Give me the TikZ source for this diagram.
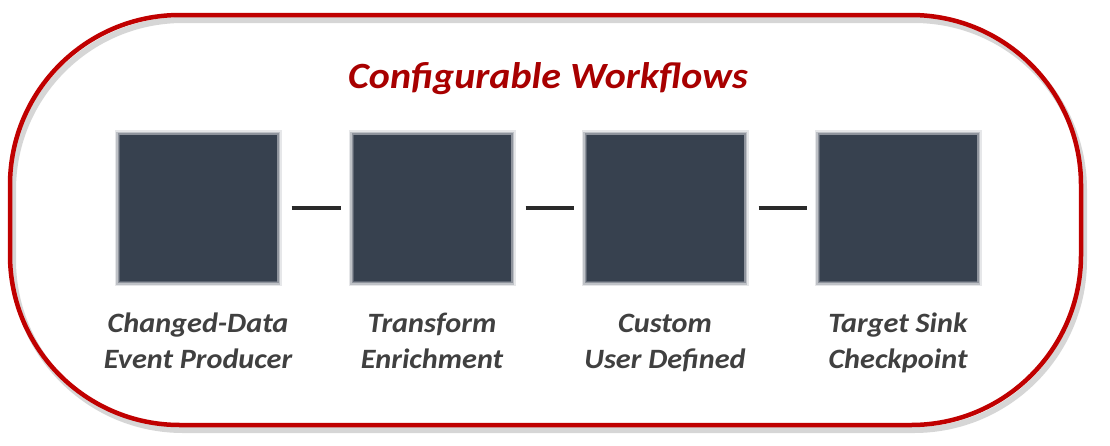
\documentclass[tikz,border=0pt]{standalone}
\usepackage{fontspec}
\setmainfont{Carlito}[FakeStretch=1.08]
\definecolor{framered}{HTML}{C00000}
\definecolor{titlered}{HTML}{A80000}
\definecolor{boxfill}{HTML}{37414F}
\definecolor{labelgray}{HTML}{404040}
\definecolor{dashgray}{HTML}{2A2A2A}
\tikzset{
  stagebox/.style={minimum width=157pt, minimum height=146pt, inner sep=0pt, fill=boxfill},
  stagelabel/.style={text=labelgray, font=\fontsize{28}{36}\selectfont\bfseries\itshape, align=center, inner sep=0pt},
  linkdash/.style={draw=dashgray, line width=4pt, shorten <=15pt, shorten >=12pt}
}
\begin{document}
\begin{tikzpicture}[x=1pt,y=-1pt]
\useasboundingbox (0,0) rectangle (1110,445);
\fill[white] (0,0) rectangle (1110,445);
% shadow of the frame
\draw[black!35, opacity=0.45, line width=6pt, rounded corners=170pt] (13,20) rectangle (1084,430);
\draw[framered, line width=4.5pt, rounded corners=170pt] (10,15) rectangle (1081,425);
% title
\node[text=titlered, font=\fontsize{37}{42}\selectfont\bfseries\itshape, inner sep=0pt] (title) at (548,79) {Configurable Workflows};
% blurred halos
\foreach \cx in {198,432,665,898}{
  \foreach \k/\op in {3/0.12,1.5/0.22,0/0.35,-1.5/0.55}{
    \fill[boxfill, opacity=\op] (\cx-80.5-\k,208-75-\k) rectangle (\cx+80.5+\k,208+75+\k);
  }
}
\node[stagebox] (b1) at (198,208) {};
\node[stagebox] (b2) at (432,208) {};
\node[stagebox] (b3) at (665,208) {};
\node[stagebox] (b4) at (898,208) {};
\draw[linkdash] (b1.east) -- (b2.west);
\draw[linkdash] (b2.east) -- (b3.west);
\draw[linkdash] (b3.east) -- (b4.west);
\node[stagelabel, anchor=base] (l1) at (198,368) {Changed-Data\\Event Producer};
\node[stagelabel, anchor=base] (l2) at (432,368) {Transform\\Enrichment};
\node[stagelabel, anchor=base] (l3) at (665,368) {Custom\\User Defined};
\node[stagelabel, anchor=base] (l4) at (898,368) {Target Sink\\Checkpoint};
\end{tikzpicture}
\end{document}
